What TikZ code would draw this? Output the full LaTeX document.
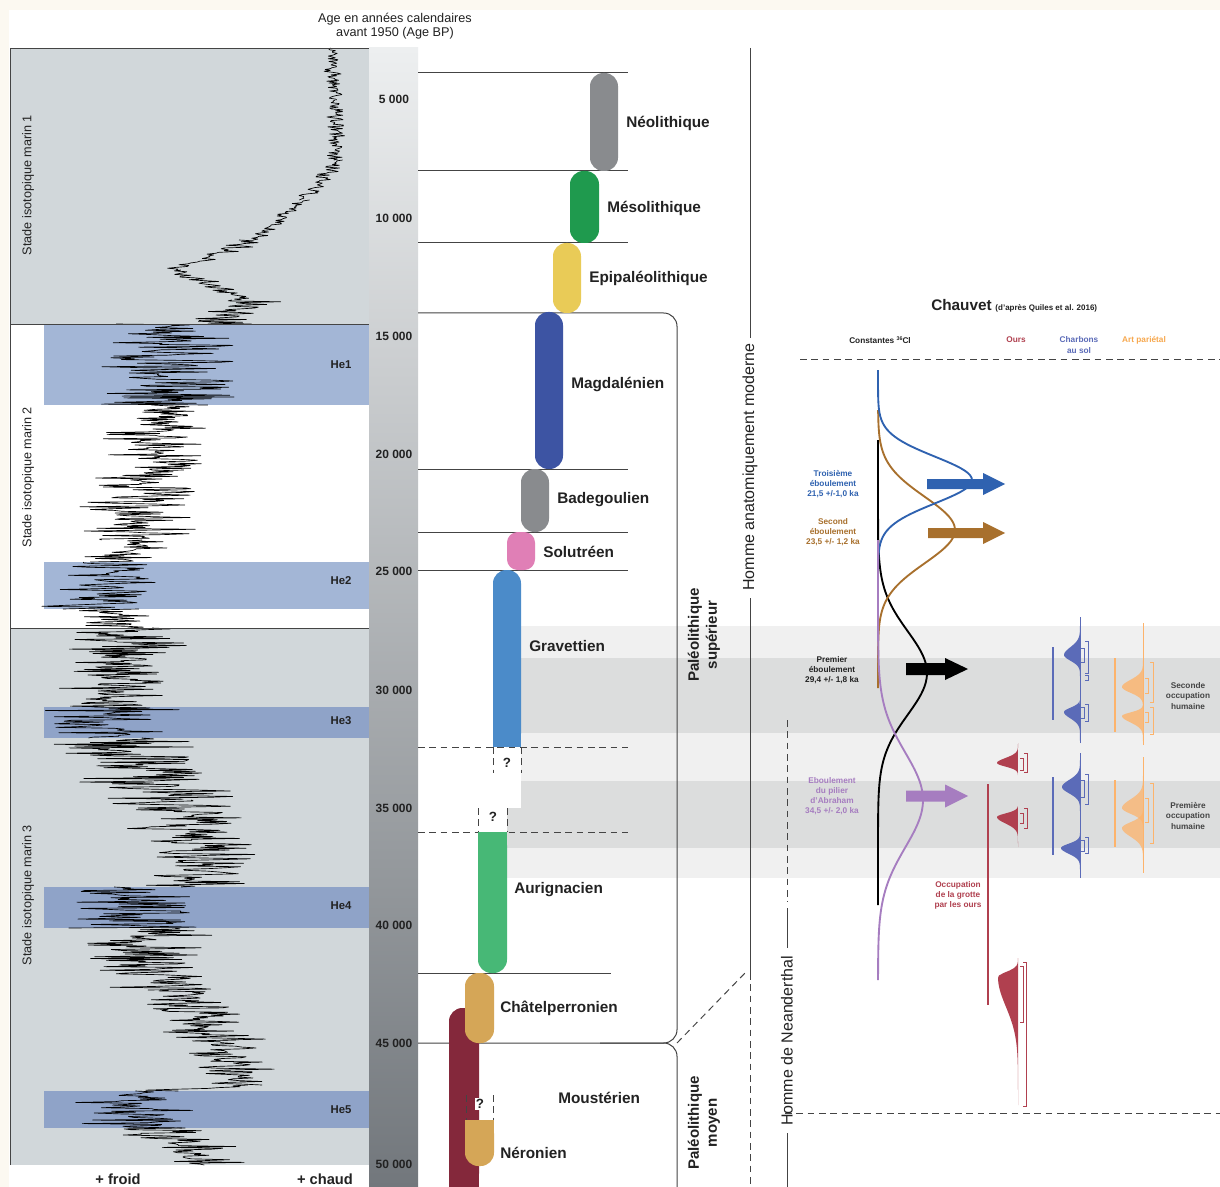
\documentclass[tikz,border=0pt]{standalone}
\usepackage{fontspec}
\setmainfont{Liberation Sans}
\usetikzlibrary{arrows.meta}
\newcommand{\fsz}[2]{\fontsize{#1pt}{#2pt}\selectfont}
\definecolor{cream}{HTML}{FCF9F1}
\definecolor{panelgrey}{HTML}{D1D7DA}
\definecolor{helight}{HTML}{A3B6D6}
\definecolor{hedark}{HTML}{8FA3C8}
\definecolor{scaletop}{HTML}{EDEFF0}
\definecolor{scalebot}{HTML}{72777C}
\definecolor{bandl}{HTML}{F0F0F0}
\definecolor{bandd}{HTML}{DCDDDD}
\definecolor{linegrey}{HTML}{444444}
\definecolor{txt}{HTML}{222222}
\definecolor{cneo}{HTML}{898B8E}
\definecolor{cmeso}{HTML}{1F9A4E}
\definecolor{cepi}{HTML}{E9CB57}
\definecolor{cmag}{HTML}{3D54A3}
\definecolor{csol}{HTML}{E07FB6}
\definecolor{cgrav}{HTML}{4B8BC9}
\definecolor{caur}{HTML}{47B876}
\definecolor{cchat}{HTML}{D5A657}
\definecolor{cmous}{HTML}{84283B}
\definecolor{cblue}{HTML}{2F62B0}
\definecolor{cbrown}{HTML}{A8702D}
\definecolor{cpurple}{HTML}{A67DC0}
\definecolor{cours}{HTML}{B0404F}
\definecolor{ccharb}{HTML}{5B6BB8}
\definecolor{cart}{HTML}{FDB36B}
\definecolor{carttxt}{HTML}{F7A84E}
\newcommand{\halfg}[8]{\fill[#1] plot[domain=#7:#8,samples=60] ({#2-#3*exp(-min(((\x-#4)/((\x<#4)?#5:#6))^2,12))},\x) -- cycle;}
\newcommand{\brk}[4]{\draw[#1,line width=0.6pt] (#2-3,#3) -- (#2,#3) -- (#2,#4) -- (#2-3,#4);}
\newcommand{\blockarrow}[7]{\fill[#1] (#2,#5-#6) -- (#3,#5-#6) -- (#3,#5-#7) -- (#4,#5) -- (#3,#5+#7) -- (#3,#5+#6) -- (#2,#5+#6) -- cycle;}
\begin{document}
\begin{tikzpicture}[x=0.75pt,y=-0.75pt,
  hline/.style={draw=linegrey,line width=0.75pt},
  dline/.style={draw=linegrey,line width=0.75pt,dash pattern=on 5pt off 3.5pt},
  cult/.style={anchor=west,font=\fsz{11.5}{13}\bfseries,text=txt,inner sep=0pt},
  scl/.style={font=\fsz{9}{10}\bfseries,text=txt,inner sep=0pt},
  helbl/.style={font=\fsz{8.5}{10}\bfseries,text=txt,inner sep=0pt},
  stade/.style={rotate=90,font=\fsz{9.5}{11},text=txt,inner sep=0pt},
  small/.style={align=center,font=\fsz{6.2}{7.6}\bfseries,inner sep=0pt},
  climate/.style={draw=black,line width=0.5pt,line join=round},
  qm/.style={font=\fsz{10}{11}\bfseries,text=txt,fill=white,inner sep=1pt}
]
\useasboundingbox (0,0) rectangle (1220,1187);
\fill[cream] (0,0) rectangle (1220,1187);
\fill[white] (9,10) rectangle (1220,1187);

% ---------- left climate panel
\fill[panelgrey] (10,48) rectangle (369,324);
\fill[white] (10,324) rectangle (369,628);
\fill[panelgrey] (10,628) rectangle (369,1165);
\fill[helight] (44,324) rectangle (369,405);
\fill[helight] (44,562) rectangle (369,609);
\fill[hedark] (44,707) rectangle (369,738);
\fill[hedark] (44,887) rectangle (369,928);
\fill[hedark] (44,1091) rectangle (369,1128);
\pgfmathsetseed{11}
\begin{scope}
\clip (10,48) rectangle (369,1165);
\foreach \ya/\xa/\yb/\xb/\am in {
  48/330/100/335/10, 100/335/160/338/12, 160/338/200/305/12,
  200/305/240/255/14, 240/255/270/175/18, 270/175/300/245/20,
  300/245/324/230/40, 324/165/405/165/80, 405/160/470/155/60,
  470/150/540/135/65, 540/130/562/120/55, 562/110/609/105/75,
  609/110/628/130/50, 628/130/650/130/85, 650/125/707/105/65,
  707/110/738/110/80, 738/120/800/160/90, 800/170/850/210/70,
  850/210/887/200/60, 887/130/928/130/90, 928/140/990/160/75,
  990/175/1040/210/60, 1040/215/1085/245/45, 1085/230/1091/180/45,
  1091/135/1128/135/65, 1128/160/1165/195/60}{
  \pgfmathtruncatemacro{\ns}{(\yb-\ya)/0.9+2}
  \draw[climate] plot[domain=\ya:\yb,samples=\ns] ({\xa+(\xb-\xa)*(\x-\ya)/(\yb-\ya)+\am*(rand+rand)/2},\x);
}
\end{scope}
\draw[draw=linegrey,line width=0.6pt] (10,1165) -- (10,48) -- (369,48);
\draw[draw=linegrey,line width=0.6pt] (10,324) -- (369,324);
\draw[draw=linegrey,line width=0.6pt] (10,628) -- (369,628);
\node[stade] (s1) at (28,185) {Stade isotopique marin 1};
\node[stade] (s2) at (28,477) {Stade isotopique marin 2};
\node[stade] (s3) at (28,895) {Stade isotopique marin 3};
\node[helbl] (he1) at (341,365) {He1};
\node[helbl] (he2) at (341,581) {He2};
\node[helbl] (he3) at (341,721) {He3};
\node[helbl] (he4) at (341,906) {He4};
\node[helbl] (he5) at (341,1110) {He5};
\node[font=\fsz{11}{12}\bfseries,text=txt] (froid) at (118,1179) {+ froid};
\node[font=\fsz{11}{12}\bfseries,text=txt] (chaud) at (325,1179) {+ chaud};

% ---------- age scale
\shade[top color=scaletop,bottom color=scalebot] (369,48) rectangle (418,1187);
\node[align=center,font=\fsz{9.5}{10.5},text=txt] (title) at (395,26) {Age en années calendaires\\avant 1950 (Age BP)};
\foreach \lab/\yy [count=\i] in {5 000/99,10 000/218,15 000/336,20 000/454,25 000/571,30 000/690,35 000/808,40 000/925,45 000/1043,50 000/1164}
  \node[scl] (age\i) at (394,\yy) {\lab};

% ---------- grey bands (right)
\fill[bandl] (507,626) rectangle (1220,658);
\fill[bandd] (507,658) rectangle (1220,733);
\fill[bandl] (507,733) rectangle (1220,781);
\fill[bandd] (507,781) rectangle (1220,848);
\fill[bandl] (507,848) rectangle (1220,878);
\fill[white] (493,747) rectangle (521,808);

% ---------- culture lines
\foreach \yy/\xe in {73/628,171/628,243/628,469/628,532/628,570/628,973/611}
  \draw[hline] (418,\yy) -- (\xe,\yy);
\draw[dline] (418,747) -- (628,747);
\draw[dline] (418,832) -- (628,832);
\draw[hline,rounded corners=10] (418,313) -| (677,1043) -- (418,1043);
\draw[hline,rounded corners=10] (600,1043) -| (677,1187);

% ---------- culture bars
\fill[cneo,rounded corners=10] (590,73) rectangle (618,171);
\fill[cmeso,rounded corners=10] (570,171) rectangle (599,243);
\fill[cepi,rounded corners=10] (553,243) rectangle (581,313);
\fill[cmag,rounded corners=10] (535,312) rectangle (563,469);
\fill[cneo,rounded corners=10] (521,469) rectangle (549,532);
\fill[csol,rounded corners=8] (507,532) rectangle (535,570);
\fill[cgrav,rounded corners=10] (493,570) rectangle (521,747);
\fill[cgrav] (493,600) rectangle (521,747);
\fill[caur,rounded corners=10] (478,832) rectangle (507,973);
\fill[caur] (478,832) rectangle (507,940);
\fill[cmous,rounded corners=10] (449,1008) rectangle (479,1187);
\fill[cmous] (449,1040) rectangle (479,1187);
\fill[cchat,rounded corners=10] (465,973) rectangle (494,1043);
\fill[cchat,rounded corners=10] (465,1120) rectangle (494,1166);
\fill[cchat] (465,1120) rectangle (494,1140);
% question boxes
\draw[dline] (493,747) -- (493,773);
\draw[dline] (521,747) -- (521,773);
\node[qm,fill=none] (q1) at (507,763) {?};
\draw[dline] (478,808) -- (478,832);
\draw[dline] (507,808) -- (507,832);
\node[qm,fill=none] (q2) at (493,817) {?};
\draw[dline] (466,1095) -- (466,1120);
\draw[dline] (493,1095) -- (493,1120);
\node[qm] (q3) at (480,1104) {?};

\node[cult] (neo) at (626,123) {Néolithique};
\node[cult] (meso) at (607,208) {Mésolithique};
\node[cult] (epi) at (589,278) {Epipaléolithique};
\node[cult] (mag) at (571,385) {Magdalénien};
\node[cult] (bad) at (557,500) {Badegoulien};
\node[cult] (sol) at (543,552) {Solutréen};
\node[cult] (grav) at (529,646) {Gravettien};
\node[cult] (aur) at (514,890) {Aurignacien};
\node[cult] (chat) at (500,1008) {Châtelperronien};
\node[cult] (mous) at (558,1098) {Moustérien};
\node[cult] (ner) at (500,1153) {Néronien};

\node[rotate=90,align=center,font=\fsz{11.3}{13.5}\bfseries,text=txt,inner sep=0pt] (pals) at (704,635) {Paléolithique\\supérieur};
\node[rotate=90,align=center,font=\fsz{11.3}{13.5}\bfseries,text=txt,inner sep=0pt] (palm) at (704,1123) {Paléolithique\\moyen};

% ---------- human lines
\coordinate (hamtop) at (750,48);
\coordinate (ham1) at (750,338);
\coordinate (ham2) at (750,598);
\coordinate (ham3) at (750,973);
\coordinate (hambot) at (750,1187);
\coordinate (bra) at (677,1043);
\draw[hline] (hamtop) -- (ham1);
\draw[hline] (ham2) -- (ham3);
\draw[dline] (ham3) -- (hambot);
\draw[dline] (bra) -- (745,973);
\node[rotate=90,font=\fsz{12}{13},text=txt,inner sep=0pt] (ham) at (750,467) {Homme anatomiquement moderne};
\coordinate (nea0) at (787,720);
\coordinate (nea1) at (787,902);
\coordinate (nea2) at (787,948);
\coordinate (nea3) at (787,1133);
\coordinate (nea4) at (787,1187);
\draw[dline] (nea0) -- (nea1);
\draw[hline] (787,908) -- (nea2);
\draw[hline] (nea3) -- (nea4);
\node[rotate=90,font=\fsz{12}{13},text=txt,inner sep=0pt] (nea) at (787,1041) {Homme de Neanderthal};

% ---------- Chauvet panel
\node[anchor=base west,inner sep=0pt,text=txt] (chauvet) at (931,311) {{\fsz{11.5}{13}\bfseries Chauvet} {\fsz{6}{7}\bfseries (d'après Quiles et al. 2016)}};
\node[small,text=txt] (h36) at (880,340) {Constantes \raisebox{0.6ex}{\fsz{4}{5}36}Cl};
\node[small,text=cours] (hours) at (1016,340) {Ours};
\node[small,text=ccharb] (hcharb) at (1079,345) {Charbons\\au sol};
\node[small,text=carttxt] (hart) at (1144,340) {Art pariétal};
\draw[dline] (800,360) -- (1220,360);
\draw[dline] (785,1113) -- (1220,1113);

% curves
\draw[black,line width=1.4pt] plot[domain=440:905,samples=120] ({878+49*exp(-min(((\x-673)/59)^2,12))},\x);
\draw[cbrown,line width=1.4pt] plot[domain=410:688,samples=90] ({878+77*exp(-min(((\x-530)/47)^2,12))},\x);
\draw[cblue,line width=1.4pt] plot[domain=370:583,samples=90] ({878+94*exp(-min(((\x-480)/33)^2,12))},\x);
\draw[cpurple,line width=1.4pt] plot[domain=540:980,samples=120] ({878+45*exp(-min(((\x-800)/67)^2,12))},\x);
\draw[black,line width=1.4pt] (878,440) -- (878,540);

\blockarrow{cblue}{927}{983}{1005}{484}{5}{11}
\blockarrow{cbrown}{928}{983}{1005}{533}{5}{11}
\blockarrow{black}{906}{945}{968}{669}{6}{11}
\blockarrow{cpurple}{906}{945}{968}{796}{5.5}{11.5}

\node[small,text=cblue] (troi) at (833,484) {Troisième\\éboulement\\21,5 +/-1,0 ka};
\node[small,text=cbrown] (sec) at (833,532) {Second\\éboulement\\23,5 +/- 1,2 ka};
\node[small,text=txt] (prem) at (832,670) {Premier\\éboulement\\29,4 +/- 1,8 ka};
\node[small,text=cpurple] (abr) at (832,796) {Eboulement\\du pilier\\d'Abraham\\34,5 +/- 2,0 ka};
\node[small,text=cours] (occ) at (958,895) {Occupation\\de la grotte\\par les ours};
\node[small,text=linegrey] (occ2) at (1188,696) {Seconde\\occupation\\humaine};
\node[small,text=linegrey] (occ1) at (1188,816) {Première\\occupation\\humaine};

% ours
\draw[cours,line width=0.8pt] (988,784) -- (988,1005);
\halfg{cours}{1018}{21}{763}{7}{5}{743}{775}
\halfg{cours}{1018}{21}{817}{5}{9}{806}{847}
\halfg{cours}{1018}{20}{977}{7}{42}{958}{1105}
\brk{cours}{1023}{758}{770}
\brk{cours}{1027}{753}{772}
\brk{cours}{1023}{813}{823}
\brk{cours}{1027}{808}{828}
\brk{cours}{1023}{966}{1022}
\brk{cours}{1026}{962}{1106}

% charbons
\draw[ccharb,line width=0.4pt] (1080,617) -- (1080,743);
\draw[ccharb,line width=0.4pt] (1080,753) -- (1080,878);
\draw[ccharb,line width=0.8pt] (1053,647) -- (1053,720);
\draw[ccharb,line width=0.8pt] (1053,777) -- (1053,855);
\halfg{ccharb}{1080}{16}{655}{11}{8}{617}{680}
\halfg{ccharb}{1080}{16}{712}{6}{9}{700}{743}
\halfg{ccharb}{1080}{18}{787}{10}{9}{753}{815}
\halfg{ccharb}{1080}{19}{848}{6}{8}{833}{878}
\brk{ccharb}{1084}{648}{662}
\brk{ccharb}{1088}{641}{673}
\brk{ccharb}{1088}{675}{680}
\brk{ccharb}{1084}{707}{718}
\brk{ccharb}{1088}{704}{721}
\brk{ccharb}{1084}{780}{797}
\brk{ccharb}{1088}{774}{804}
\brk{ccharb}{1084}{840}{851}
\brk{ccharb}{1088}{837}{853}

% art parietal
\draw[cart,line width=0.4pt] (1143,623) -- (1143,745);
\draw[cart,line width=0.4pt] (1143,757) -- (1143,873);
\draw[cart,line width=0.8pt] (1115,658) -- (1115,732);
\draw[cart,line width=0.8pt] (1115,780) -- (1115,847);
\halfg{cart,fill opacity=0.8}{1143}{21}{687}{10}{8}{655}{712}
\halfg{cart,fill opacity=0.8}{1143}{21}{716}{5}{9}{705}{745}
\halfg{cart,fill opacity=0.75}{1143}{21}{808}{12}{8}{770}{835}
\halfg{cart,fill opacity=0.75}{1143}{21}{828}{8}{12}{800}{870}
\brk{cart}{1148}{678}{693}
\brk{cart}{1153}{662}{702}
\brk{cart}{1148}{712}{722}
\brk{cart}{1153}{707}{734}
\brk{cart}{1148}{798}{822}
\brk{cart}{1153}{783}{843}
\end{tikzpicture}
\end{document}
